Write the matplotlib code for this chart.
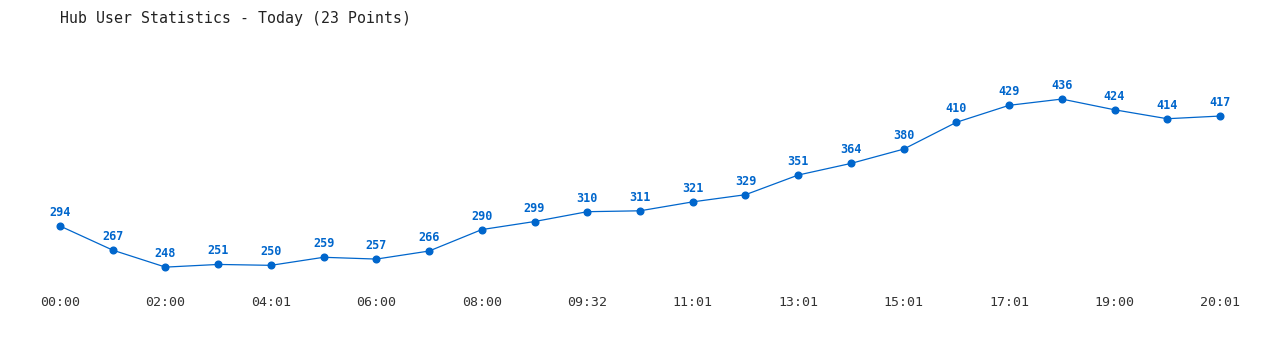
import matplotlib
matplotlib.use("Agg")
import matplotlib.pyplot as plt

# hub user counts, 23 samples today
times = ["00:00", "01:00", "02:00", "03:00", "04:01", "05:00", "06:00", "07:00",
         "08:00", "09:00", "09:32", "10:00", "11:01", "12:00", "13:01", "14:00",
         "15:01", "16:00", "17:01", "18:00", "19:00", "20:00", "20:01"]
users = [294, 267, 248, 251, 250, 259, 257, 266, 290, 299, 310, 311,
         321, 329, 351, 364, 380, 410, 429, 436, 424, 414, 417]

BLUE = "#0066cc"
plt.rcParams['font.family'] = ['DejaVu Sans Mono', 'DejaVu Sans']

fig = plt.figure(figsize=(12.8, 3.5), dpi=100)
ax = fig.add_axes([60 / 1280, (350 - 285) / 350, 1160 / 1280, 225 / 350])

x = list(range(len(users)))
ax.plot(x, users, color=BLUE, linewidth=0.9, marker="o", markersize=4.8,
        markerfacecolor=BLUE, markeredgecolor=BLUE, clip_on=False)

for xi, v in zip(x, users):
    ax.annotate(str(v), (xi, v), xytext=(0, 5), textcoords="offset points",
                ha="center", va="bottom", fontsize=8.5, fontweight="bold",
                color=BLUE)

ax.set_xlim(0, len(users) - 1)
ax.set_ylim(228, 479.7)
ax.set_xticks(x[::2])
ax.set_xticklabels(times[::2], fontsize=9.5, color="#333333")
ax.tick_params(axis="x", length=0, pad=8)
ax.set_yticks([])
for s in ax.spines.values():
    s.set_visible(False)

fig.text(60 / 1280, 1 - 18 / 350, "Hub User Statistics - Today (23 Points)",
         fontsize=10.7, color="#222222", va="center", ha="left")

fig.savefig("out.png", dpi=100, facecolor="white")
